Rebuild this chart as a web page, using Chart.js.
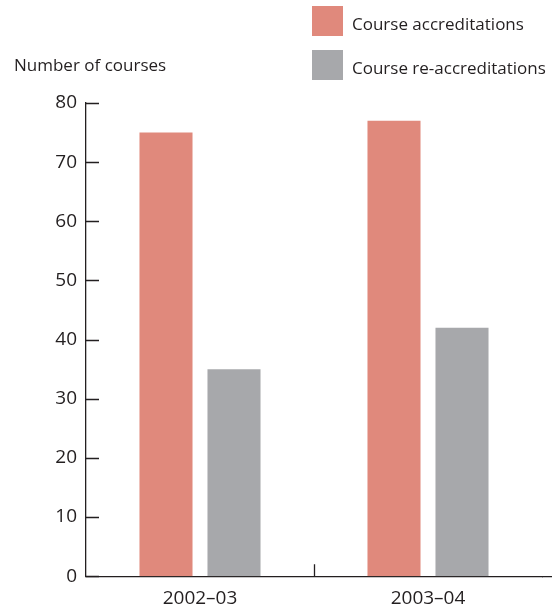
<!DOCTYPE html>
<html>
<head>
<meta charset="utf-8">
<script src="https://cdn.jsdelivr.net/npm/chart.js@4/dist/chart.umd.min.js"></script>
<style>
  html, body { margin: 0; padding: 0; background: #fff; overflow: hidden; }
  #wrap { position: relative; width: 557px; height: 610px; overflow: hidden; }
  canvas { position: absolute; left: 0; top: 0; }
  .txt { position: absolute; font-family: "Open Sans", sans-serif; font-size: 17px; color: #231f20; white-space: nowrap; line-height: 1; }
  .box { position: absolute; width: 31px; height: 30px; }
</style>
</head>
<body>
<div id="wrap">
  <canvas id="c" width="557" height="621"></canvas>
  <div class="txt" id="ytitle" style="left:14px; top:56px;"></div>
  <div id="legend"></div>
</div>
<script>
const categories = ["2002–03", "2003–04"];
const seriesNames = ["Course accreditations", "Course re-accreditations"];
const accreditations = [75, 77];
const reAccreditations = [35, 42];
const yTicks = [0, 10, 20, 30, 40, 50, 60, 70, 80];
const yTitle = "Number of courses";
const colors = ["#e0897c", "#a7a8ab"];
const textColor = "#231f20";

document.getElementById("ytitle").textContent = yTitle;
const legend = document.getElementById("legend");
seriesNames.forEach((name, i) => {
  const b = document.createElement("div");
  b.className = "box";
  b.style.left = "312px";
  b.style.top = (6 + i * 44) + "px";
  b.style.background = colors[i];
  legend.appendChild(b);
  const t = document.createElement("div");
  t.className = "txt";
  t.style.left = "352px";
  t.style.top = (15 + i * 44) + "px";
  t.textContent = name;
  legend.appendChild(t);
});

const tickFont = { family: "Open Sans", size: 19 };

const innerTicks = {
  id: "innerTicks",
  afterDraw(chart) {
    const ctx = chart.ctx;
    const y = chart.scales.y, x = chart.scales.x;
    const a = chart.chartArea;
    ctx.save();
    ctx.strokeStyle = textColor;
    ctx.lineWidth = 1.3;
    ctx.beginPath();
    yTicks.forEach(v => {
      const py = Math.round(y.getPixelForValue(v)) + 0.5;
      ctx.moveTo(a.left, py);
      ctx.lineTo(a.left + 13, py);
    });
    const mid = (x.getPixelForValue(0) + x.getPixelForValue(1)) / 2;
    ctx.moveTo(Math.round(mid) + 0.5, a.bottom);
    ctx.lineTo(Math.round(mid) + 0.5, a.bottom - 12);
    ctx.moveTo(a.right, a.bottom + 0.5);
    ctx.lineTo(a.right + 10, a.bottom + 0.5);
    ctx.stroke();
    ctx.restore();
  }
};

new Chart(document.getElementById("c"), {
  type: "bar",
  data: {
    labels: categories,
    datasets: [
      { label: seriesNames[0], data: accreditations, backgroundColor: colors[0] },
      { label: seriesNames[1], data: reAccreditations, backgroundColor: colors[1] }
    ]
  },
  options: {
    responsive: false,
    animation: false,
    layout: { padding: { top: 103, right: 15, left: 35, bottom: 0 } },
    plugins: { legend: { display: false }, tooltip: { enabled: false } },
    datasets: { bar: { categoryPercentage: 0.5965, barPercentage: 0.78 } },
    scales: {
      x: {
        grid: { display: false, drawTicks: false },
        border: { display: true, color: textColor, width: 1.3 },
        ticks: { color: textColor, font: tickFont, padding: 11 }
      },
      y: {
        min: 0, max: 80,
        afterBuildTicks(scale) { scale.ticks = yTicks.map(v => ({ value: v })); },
        afterFit(scale) { scale.width = 51; },
        grid: { display: false, drawTicks: false },
        border: { display: true, color: textColor, width: 1.3 },
        ticks: { color: textColor, font: tickFont, padding: 9 }
      }
    }
  },
  plugins: [innerTicks]
});
</script>
</body>
</html>
